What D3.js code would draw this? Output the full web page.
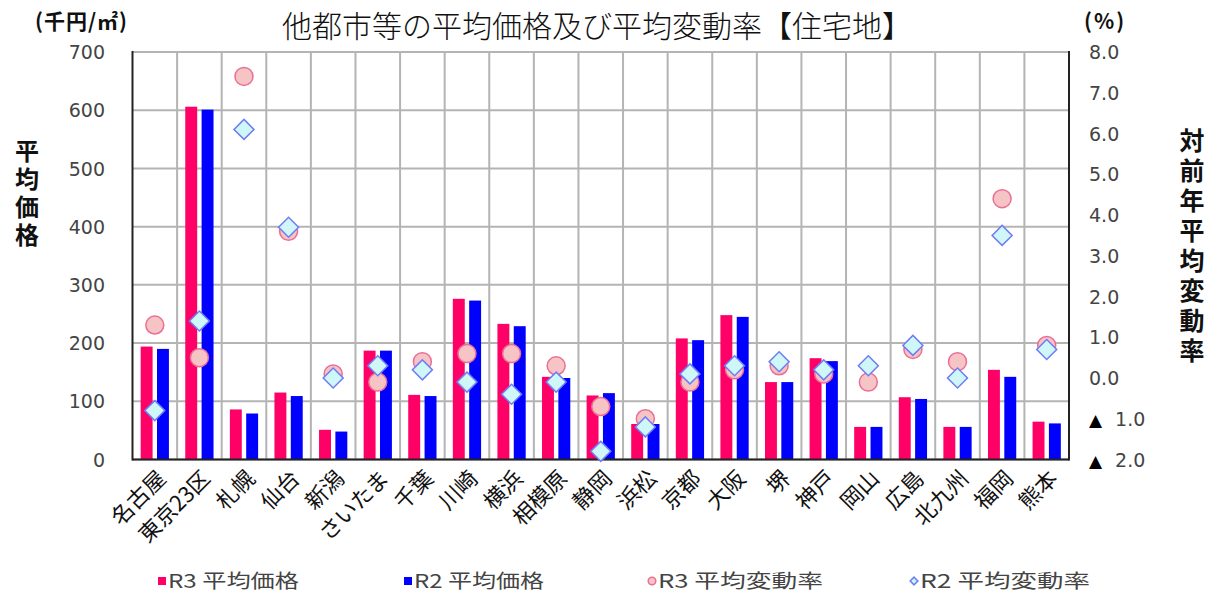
<!DOCTYPE html>
<html lang="ja">
<head>
<meta charset="utf-8">
<script src="https://cdn.jsdelivr.net/npm/d3@7"></script>
<style>
  html, body { margin: 0; padding: 0; background: #fff; }
  svg { display: block; }
  text { font-family: "Noto Sans CJK JP", "Noto Sans", sans-serif; }
  .num { font-family: "DejaVu Sans", Verdana, sans-serif; }
</style>
</head>
<body>
<svg id="chart" width="1216" height="593"></svg>
<script>
// Cities along the horizontal axis
const cities = ["名古屋","東京23区","札幌","仙台","新潟","さいたま","千葉","川崎","横浜","相模原","静岡","浜松","京都","大阪","堺","神戸","岡山","広島","北九州","福岡","熊本"];

// Average price (thousand yen / m²)
const priceR3 = [194,606,86,115,51,187,111,276,233,142,110,61,208,248,133,174,56,107,56,154,65];
const priceR2 = [190,601,79,109,48,187,109,273,229,140,114,61,205,245,133,169,56,104,56,142,62];

// Average year-on-year change (%)
const rateR3 = [1.3,0.5,7.4,3.6,0.1,-0.1,0.4,0.6,0.6,0.3,-0.7,-1.0,-0.1,0.2,0.3,0.1,-0.1,0.7,0.4,4.4,0.8];
const rateR2 = [-0.8,1.4,6.1,3.7,0.0,0.3,0.2,-0.1,-0.4,-0.1,-1.8,-1.2,0.1,0.3,0.4,0.2,0.3,0.8,0.0,3.5,0.7];

// Tick values
const priceTicks = [0,100,200,300,400,500,600,700];
const rateTicks = [-2,-1,0,1,2,3,4,5,6,7,8];

const seriesNames = ["R3 平均価格","R2 平均価格","R3 平均変動率","R2 平均変動率"];

const svg = d3.select("#chart");
const plot = { left: 132.5, right: 1069, top: 52, bottom: 459.5 };

const x = d3.scaleBand().domain(cities).range([plot.left, plot.right]).padding(0);
const xInner = d3.scaleBand().domain(["R3","R2"]).range([0, x.bandwidth()])
  .paddingInner(0.27).paddingOuter(0.5);
const yL = d3.scaleLinear().domain([0, 700]).range([plot.bottom, plot.top]);
const yR = d3.scaleLinear().domain([-2, 8]).range([plot.bottom, plot.top]);

const gridColor = "#b4b4b4";

// Horizontal gridlines
svg.append("g")
  .selectAll("line").data(priceTicks).join("line")
  .attr("x1", plot.left).attr("x2", plot.right)
  .attr("y1", d => yL(d)).attr("y2", d => yL(d))
  .attr("stroke", gridColor).attr("stroke-width", 2);

// Vertical gridlines at category boundaries
svg.append("g")
  .selectAll("line").data(cities.slice(1)).join("line")
  .attr("x1", d => x(d)).attr("x2", d => x(d))
  .attr("y1", plot.top).attr("y2", plot.bottom)
  .attr("stroke", gridColor).attr("stroke-width", 2);

// Bars
const barG = svg.append("g");
barG.selectAll("rect.r3").data(cities).join("rect")
  .attr("x", d => x(d) + xInner("R3"))
  .attr("width", xInner.bandwidth())
  .attr("y", (d, i) => yL(priceR3[i]))
  .attr("height", (d, i) => yL(0) - yL(priceR3[i]))
  .attr("fill", "#ff0066");
barG.selectAll("rect.r2").data(cities).join("rect")
  .attr("x", d => x(d) + xInner("R2"))
  .attr("width", xInner.bandwidth())
  .attr("y", (d, i) => yL(priceR2[i]))
  .attr("height", (d, i) => yL(0) - yL(priceR2[i]))
  .attr("fill", "#0000ff");

// Frame: left, bottom, right in black
svg.append("line").attr("x1", plot.left).attr("x2", plot.left).attr("y1", plot.top - 1).attr("y2", plot.bottom + 1)
  .attr("stroke", "#222").attr("stroke-width", 2);
svg.append("line").attr("x1", plot.left).attr("x2", plot.right).attr("y1", plot.bottom).attr("y2", plot.bottom)
  .attr("stroke", "#222").attr("stroke-width", 2);
svg.append("line").attr("x1", plot.right).attr("x2", plot.right).attr("y1", plot.top - 1).attr("y2", plot.bottom + 1)
  .attr("stroke", "#222").attr("stroke-width", 2);

// Markers for change rates
const cx = d => x(d) + x.bandwidth() / 2;
svg.append("g").selectAll("circle").data(cities).join("circle")
  .attr("cx", cx)
  .attr("cy", (d, i) => yR(rateR3[i]))
  .attr("r", 9)
  .attr("fill", "#f7c4c6").attr("stroke", "#ea6f95").attr("stroke-width", 1.5);

const diamond = d3.symbol().type(d3.symbolSquare).size(200);
svg.append("g").selectAll("path").data(cities).join("path")
  .attr("d", diamond)
  .attr("transform", (d, i) => `translate(${cx(d)},${yR(rateR2[i])}) rotate(45)`)
  .attr("fill", "#cff7f8").attr("stroke", "#6f7cf5").attr("stroke-width", 1.5);

// Left axis labels
const leftAxis = d3.axisLeft(yL).tickValues(priceTicks).tickSize(0).tickPadding(0);
const gL = svg.append("g").attr("transform", "translate(105,0)").call(leftAxis);
gL.select(".domain").remove();
gL.selectAll("text").attr("class", "num").attr("font-size", 19).attr("fill", "#444")
  .attr("dy", "0.35em");

// Right axis labels (negatives shown with ▲)
const rightAxis = d3.axisRight(yR).tickValues(rateTicks).tickSize(0).tickPadding(0);
const gR = svg.append("g").attr("transform", "translate(1089,0)").call(rightAxis);
gR.select(".domain").remove();
gR.selectAll("text").attr("class", "num").attr("font-size", 19).attr("fill", "#444")
  .attr("dy", "0.35em")
  .each(function (d) {
    const t = d3.select(this).text(null);
    if (d < 0) {
      t.append("tspan").attr("fill", "#000").attr("font-size", 17).text("▲");
      t.append("tspan").attr("dx", 13).text(Math.abs(d).toFixed(1));
    } else {
      t.text(d.toFixed(1));
    }
  });

// Category labels, rotated
svg.append("g").selectAll("text").data(cities).join("text")
  .attr("transform", d => `translate(${cx(d) + 7},${plot.bottom + 15}) rotate(-45)`)
  .attr("text-anchor", "end")
  .attr("dy", "0.35em")
  .attr("font-size", 22)
  .attr("fill", "#111")
  .text(d => d);

// Title
svg.append("text")
  .attr("x", 597).attr("y", 37)
  .attr("text-anchor", "middle")
  .attr("font-size", 30)
  .attr("font-weight", 300)
  .attr("fill", "#111")
  .text("他都市等の平均価格及び平均変動率【住宅地】");

// Units
svg.append("text").attr("x", 35).attr("y", 29).attr("font-size", 21).attr("font-weight", "bold")
  .attr("fill", "#111").attr("letter-spacing", 1).text("(千円/㎡)");
svg.append("text").attr("x", 1084).attr("y", 29).attr("font-size", 21).attr("font-weight", "bold")
  .attr("fill", "#111").attr("letter-spacing", 2).text("(%)");

// Vertical axis titles, set in vertical writing mode
function verticalTitle(str, xc, yc, fs, spacing) {
  svg.append("text")
    .attr("x", xc).attr("y", yc)
    .attr("writing-mode", "vertical-rl")
    .style("text-orientation", "upright")
    .attr("text-anchor", "middle")
    .attr("font-size", fs)
    .attr("letter-spacing", spacing)
    .attr("font-weight", "bold").attr("fill", "#111")
    .text(str);
}
verticalTitle("平均価格", 27, 195, 24, 4);
verticalTitle("対前年平均変動率", 1192, 248, 25, 5);

// Legend
const legendX = [158, 404, 648, 910];
const legendW = [131, 130, 165, 170];
const ly = 581;
const lg = svg.append("g");
lg.append("rect").attr("x", legendX[0]).attr("y", ly - 4).attr("width", 8).attr("height", 8).attr("fill", "#ff0066");
lg.append("rect").attr("x", legendX[1]).attr("y", ly - 4).attr("width", 8).attr("height", 8).attr("fill", "#0000ff");
lg.append("circle").attr("cx", legendX[2] + 4).attr("cy", ly).attr("r", 3.8)
  .attr("fill", "#f7c4c6").attr("stroke", "#ea6f95").attr("stroke-width", 1.5);
lg.append("path").attr("d", d3.symbol().type(d3.symbolSquare).size(30))
  .attr("transform", `translate(${legendX[3] + 4},${ly}) rotate(45)`)
  .attr("fill", "#cff7f8").attr("stroke", "#6f7cf5").attr("stroke-width", 1.5);
lg.selectAll("text").data(seriesNames).join("text")
  .attr("x", (d, i) => legendX[i] + 10)
  .attr("y", ly)
  .attr("dy", "0.35em")
  .attr("font-size", 19)
  .attr("fill", "#444")
  .attr("textLength", (d, i) => legendW[i])
  .attr("lengthAdjust", "spacingAndGlyphs")
  .text(d => d);
</script>
</body>
</html>
